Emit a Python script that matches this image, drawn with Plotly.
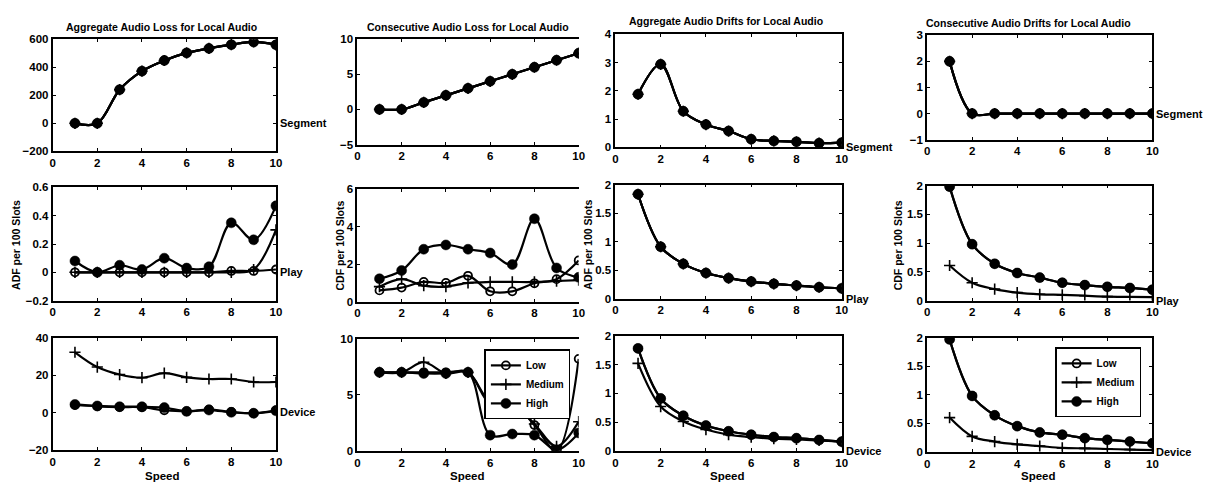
import plotly.graph_objects as go

W, H = 1211, 491
SPEED = [1, 2, 3, 4, 5, 6, 7, 8, 9, 10]
SERIES = ["Low", "Medium", "High"]

# ---- Row 1: Segment ----
AL_SEG_LOW = [0, 0, 240, 372, 448, 502, 534, 561, 580, 560]
AL_SEG_MED = [0, 0, 240, 372, 448, 502, 534, 561, 580, 560]
AL_SEG_HIGH = [0, 0, 240, 372, 448, 502, 534, 561, 580, 560]
CL_SEG_LOW = [0, 0, 1, 2, 3, 4, 5, 6, 7, 8]
CL_SEG_MED = [0, 0, 1, 2, 3, 4, 5, 6, 7, 8]
CL_SEG_HIGH = [0, 0, 1, 2, 3, 4, 5, 6, 7, 8]
AD_SEG_LOW = [1.88, 2.94, 1.28, 0.81, 0.58, 0.29, 0.23, 0.20, 0.15, 0.17]
AD_SEG_MED = [1.88, 2.94, 1.28, 0.81, 0.58, 0.29, 0.23, 0.20, 0.15, 0.17]
AD_SEG_HIGH = [1.88, 2.94, 1.28, 0.81, 0.58, 0.29, 0.23, 0.20, 0.15, 0.17]
CD_SEG_LOW = [2.0, 0, 0, 0, 0, 0, 0, 0, 0, 0]
CD_SEG_MED = [2.0, 0, 0, 0, 0, 0, 0, 0, 0, 0]
CD_SEG_HIGH = [2.0, 0, 0, 0, 0, 0, 0, 0, 0, 0]

# ---- Row 2: Play ----
AL_PLAY_LOW = [0, 0, 0, 0, 0, 0, 0, 0.01, 0.01, 0.02]
AL_PLAY_MED = [0, 0, 0, 0, 0, 0, 0, 0, 0.02, 0.30]
AL_PLAY_HIGH = [0.08, 0, 0.05, 0.02, 0.10, 0.03, 0.04, 0.35, 0.23, 0.47]
CL_PLAY_LOW = [0.6, 0.75, 1.05, 1.0, 1.38, 0.55, 0.55, 0.98, 1.2, 2.2]
CL_PLAY_MED = [0.8, 1.2, 0.85, 0.8, 1.0, 1.05, 1.05, 1.05, 1.1, 1.15]
CL_PLAY_HIGH = [1.22, 1.66, 2.8, 3.03, 2.8, 2.6, 1.98, 4.43, 1.8, 1.3]
AD_PLAY_LOW = [1.83, 0.91, 0.61, 0.45, 0.36, 0.30, 0.26, 0.23, 0.20, 0.18]
AD_PLAY_MED = [1.83, 0.91, 0.61, 0.45, 0.36, 0.30, 0.26, 0.23, 0.20, 0.18]
AD_PLAY_HIGH = [1.83, 0.91, 0.61, 0.45, 0.36, 0.30, 0.26, 0.23, 0.20, 0.18]
CD_PLAY_LOW = [1.98, 0.98, 0.64, 0.48, 0.40, 0.31, 0.27, 0.24, 0.22, 0.19]
CD_PLAY_MED = [0.61, 0.31, 0.20, 0.14, 0.11, 0.10, 0.085, 0.07, 0.065, 0.06]
CD_PLAY_HIGH = [1.98, 0.98, 0.64, 0.48, 0.40, 0.31, 0.27, 0.24, 0.22, 0.19]

# ---- Row 3: Device ----
AL_DEV_LOW = [4.0, 3.3, 2.9, 2.8, 1.2, 0.6, 1.6, 0.3, -0.4, 1.2]
AL_DEV_MED = [32.2, 24.3, 20.3, 18.6, 21.0, 18.8, 17.9, 17.9, 16.3, 16.3]
AL_DEV_HIGH = [4.3, 3.5, 3.1, 3.1, 2.6, 0.6, 1.3, 0.1, -0.4, 0.9]
CL_DEV_LOW = [7, 7, 7, 7, 7, 4.4, 4.3, 2.3, 0, 8.2]
CL_DEV_MED = [7, 7, 7.9, 6.9, 7, 4.2, 4.2, 2.4, 0.4, 2.6]
CL_DEV_HIGH = [7, 7, 6.9, 6.9, 7, 1.4, 1.5, 1.4, 0.1, 1.6]
AD_DEV_LOW = [1.78, 0.91, 0.61, 0.44, 0.34, 0.28, 0.24, 0.22, 0.19, 0.16]
AD_DEV_MED = [1.52, 0.77, 0.51, 0.37, 0.28, 0.24, 0.21, 0.20, 0.18, 0.16]
AD_DEV_HIGH = [1.78, 0.91, 0.61, 0.44, 0.34, 0.28, 0.24, 0.22, 0.19, 0.16]
CD_DEV_LOW = [1.97, 0.98, 0.64, 0.45, 0.34, 0.30, 0.24, 0.21, 0.18, 0.15]
CD_DEV_MED = [0.60, 0.27, 0.18, 0.13, 0.10, 0.07, 0.06, 0.05, 0.04, 0.03]
CD_DEV_HIGH = [1.97, 0.98, 0.64, 0.45, 0.34, 0.30, 0.24, 0.21, 0.18, 0.15]

TITLES = ["Aggregate Audio Loss for Local Audio",
          "Consecutive Audio Loss for Local Audio",
          "Aggregate Audio Drifts for Local Audio",
          "Consecutive Audio Drifts for Local Audio"]
ROW_LABELS = ["Segment", "Play", "Device"]
YLABELS_ROW2 = ["ADF per 100 Slots", "CDF per 100 Slots", "ADF per 100 Slots", "CDF per 100 Slots"]

PANELS = [
    [(AL_SEG_LOW, AL_SEG_MED, AL_SEG_HIGH), (CL_SEG_LOW, CL_SEG_MED, CL_SEG_HIGH),
     (AD_SEG_LOW, AD_SEG_MED, AD_SEG_HIGH), (CD_SEG_LOW, CD_SEG_MED, CD_SEG_HIGH)],
    [(AL_PLAY_LOW, AL_PLAY_MED, AL_PLAY_HIGH), (CL_PLAY_LOW, CL_PLAY_MED, CL_PLAY_HIGH),
     (AD_PLAY_LOW, AD_PLAY_MED, AD_PLAY_HIGH), (CD_PLAY_LOW, CD_PLAY_MED, CD_PLAY_HIGH)],
    [(AL_DEV_LOW, AL_DEV_MED, AL_DEV_HIGH), (CL_DEV_LOW, CL_DEV_MED, CL_DEV_HIGH),
     (AD_DEV_LOW, AD_DEV_MED, AD_DEV_HIGH), (CD_DEV_LOW, CD_DEV_MED, CD_DEV_HIGH)],
]

YRANGES = [
    [(-200, 600, 200), (-5, 10, 5), (0, 4, 1), (-1, 3, 1)],
    [(-0.2, 0.6, 0.2), (0, 6, 2), (0, 2, 0.5), (0, 2, 0.5)],
    [(-20, 40, 20), (0, 10, 5), (0, 2, 0.5), (0, 2, 0.5)],
]

# pixel layout
XDOM = [(50, 275), (357, 580), (617, 845), (931, 1158)]
YDOM = [
    [(34, 149), (34, 142), (29, 145), (30, 137)],
    [(186, 302), (188, 303), (183, 300), (184, 302)],
    [(340, 455), (341, 456), (338, 456), (340, 457)],
]

FONT = "Liberation Sans"
MARKERS = {
    "Low": dict(symbol="circle-open", size=8, color="black", line=dict(width=1.8, color="black")),
    "Medium": dict(symbol="cross-thin-open", size=8, color="black", line=dict(width=1.6, color="black")),
    "High": dict(symbol="circle", size=10, color="black", line=dict(width=0.5, color="black")),
}


def px(x):
    return x / W


def py(y):
    return 1 - y / H


fig = go.Figure()
layout = {}
annotations = []

for r in range(3):
    for c in range(4):
        i = r * 4 + c + 1
        xa = "x" if i == 1 else f"x{i}"
        ya = "y" if i == 1 else f"y{i}"
        data = PANELS[r][c]
        for name, vals in zip(SERIES, data):
            legend = "legend"
            show = False
            if r == 2 and c == 1:
                legend, show = "legend", True
            elif r == 2 and c == 3:
                legend, show = "legend2", True
            fig.add_trace(go.Scatter(
                x=SPEED, y=vals, mode="lines+markers", name=name,
                line=dict(color="black", width=2.2, shape="spline", smoothing=1.0),
                marker=MARKERS[name], xaxis=xa, yaxis=ya,
                showlegend=show, legend=legend,
            ))
        x0, x1 = XDOM[c]
        y0, y1 = YDOM[r][c]
        lo, hi, dt = YRANGES[r][c]
        tickfont = dict(family=FONT, size=11.5, color="black", weight="bold")
        layout["xaxis" if i == 1 else f"xaxis{i}"] = dict(
            domain=[px(x0), px(x1)], anchor=ya, range=[0, 10], tick0=0, dtick=2,
            showline=True, linecolor="black", linewidth=1.8, mirror="allticks",
            ticks="inside", ticklen=3, tickwidth=1, tickcolor="black",
            showgrid=False, zeroline=False, tickfont=tickfont, fixedrange=True,
        )
        layout["yaxis" if i == 1 else f"yaxis{i}"] = dict(
            domain=[py(y1), py(y0)], anchor=xa, range=[lo, hi], tick0=lo, dtick=dt,
            showline=True, linecolor="black", linewidth=1.8,
            mirror=False if c == 1 else "allticks",
            ticks="inside", ticklen=3, tickwidth=1, tickcolor="black",
            showgrid=False, zeroline=False, tickfont=tickfont, fixedrange=True,
        )
        # row label at y = 0
        if c != 1:
            annotations.append(dict(
                text=ROW_LABELS[r], xref="paper", x=px(x1 + 2), xanchor="left",
                yref=ya, y=0, yanchor="middle", showarrow=False,
                font=dict(family=FONT, size=11, color="black", weight="bold"),
            ))

# column titles
TITLE_POS = [(160, 22), (468, 22), (728, 15), (1033, 17)]
for t, (tx, ty) in zip(TITLES, TITLE_POS):
    annotations.append(dict(text=t, xref="paper", yref="paper", x=px(tx), y=py(ty),
                            xanchor="center", yanchor="middle", showarrow=False,
                            font=dict(family=FONT, size=10.5, color="black", weight="bold")))

# y-axis titles on row 2
YLAB_X = [13, 340, 589, 902]
for t, lx in zip(YLABELS_ROW2, YLAB_X):
    annotations.append(dict(text=t, xref="paper", yref="paper", x=px(lx), y=py(245),
                            xanchor="center", yanchor="middle", textangle=-90, showarrow=False,
                            font=dict(family=FONT, size=10.5, color="black", weight="bold")))

# x-axis titles on the bottom row
XLAB_X = [161, 468, 730, 1043]
for lx in XLAB_X:
    annotations.append(dict(text="Speed", xref="paper", yref="paper", x=px(lx), y=py(482),
                            xanchor="center", yanchor="middle", showarrow=False,
                            font=dict(family=FONT, size=11.5, color="black", weight="bold")))

legend_style = dict(bgcolor="white", bordercolor="black", borderwidth=1.5,
                    font=dict(family=FONT, size=10, color="black", weight="bold"),
                    xanchor="left", yanchor="top", tracegroupgap=0, itemwidth=30)

fig.update_layout(
    **layout,
    annotations=annotations,
    width=W, height=H,
    margin=dict(l=0, r=0, t=0, b=0),
    paper_bgcolor="white", plot_bgcolor="white",
    legend=dict(x=px(485), y=py(352), **legend_style),
    legend2=dict(x=px(1060), y=py(350), **legend_style),
    showlegend=True,
)

fig.write_html("out.html")
